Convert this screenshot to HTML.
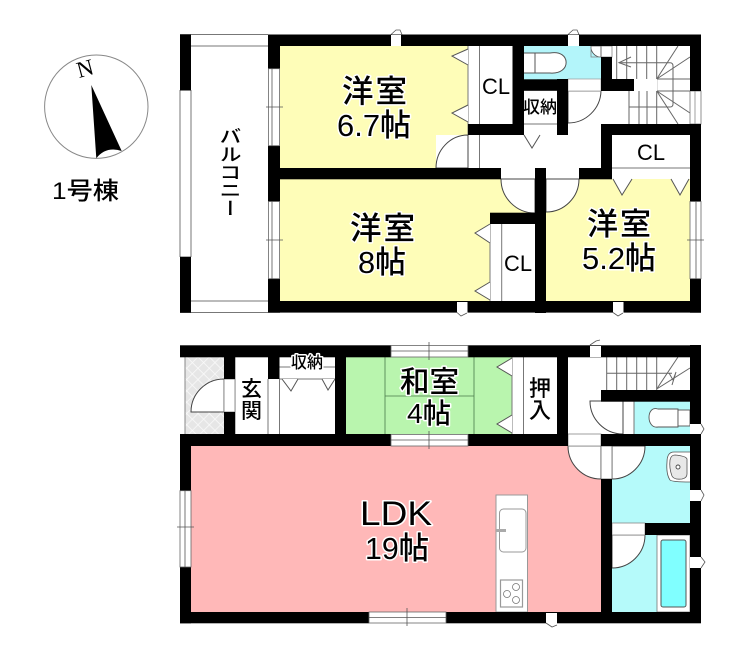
<!DOCTYPE html>
<html lang="ja"><head><meta charset="utf-8"><style>
html,body{margin:0;padding:0;background:#fff}
svg{display:block}
text{font-family:"Liberation Sans","Noto Sans CJK JP",sans-serif;font-weight:500;fill:#000;stroke:#fff;stroke-width:3px;paint-order:stroke;stroke-linejoin:round}
.n{stroke:none}
</style></head><body>
<svg xmlns="http://www.w3.org/2000/svg" width="740" height="659" viewBox="0 0 740 659">
<defs><pattern id="h" width="8" height="8" patternUnits="userSpaceOnUse" patternTransform="rotate(45)"><rect width="8" height="8" fill="#e6e6e6"/><path d="M0 0H8M0 0V8" stroke="#fafafa" stroke-width="1.5"/></pattern></defs>
<rect width="740" height="659" fill="#fff"/>

<!-- compass -->
<circle cx="96.3" cy="106.7" r="51.7" fill="#fff" stroke="#888" stroke-width="1"/>
<path d="M91.3 85L121.7 151Q106 146 96.3 158.3Z" fill="#000"/>
<text class="n" x="0" y="0" transform="translate(79 78) rotate(-15)" font-size="23" style="font-family:'Liberation Serif',serif">N</text>
<text class="n" x="52" y="199" font-size="24" textLength="67" lengthAdjust="spacingAndGlyphs">1号棟</text>

<!-- UPPER floor fills -->
<rect x="280" y="46" width="188" height="122" fill="#fefdb8"/>
<rect x="280" y="179" width="266" height="122" fill="#fefdb8"/>
<rect x="546" y="179" width="144" height="122" fill="#fefdb8"/>
<rect x="524" y="46" width="77" height="34" fill="#b3f5fa"/>
<!-- upper white interiors -->
<rect x="468" y="46" width="45" height="78" fill="#fff"/>
<rect x="490" y="224" width="45" height="77" fill="#fff"/>
<rect x="612" y="135" width="78" height="44" fill="#fff"/>
<rect x="436" y="135" width="165" height="33" fill="#fff"/>

<g fill="none" stroke="#777" stroke-width="1">
<!-- balcony -->
<path d="M180 34.5H268M191 46H268M191 301H268M180 312.5H268M180 90V257M191 90V257"/>
<!-- closet lines -->
<path d="M468 46V168M479.5 46V124M479.5 135V168M490 224V301M501.7 224V301M612 168H690"/>
<path d="M524 124H557"/>
</g>

<!-- door arcs -->
<g fill="#fff" stroke="#444" stroke-width="1">
<path d="M468 168H436A32 33 0 0 1 468 135Z"/>
<path d="M535 179H501A34 34 0 0 0 535 213Z"/>
<path d="M546 179H579A33 33 0 0 1 546 212Z"/>
<path d="M568 91H601A33 33 0 0 1 568 123Z"/>
<path d="M591 46A10 10 0 0 0 601 57V46Z" stroke-width=".8"/>
</g>
<rect x="591" y="46" width="21" height="11" fill="none" stroke="#888" stroke-width=".8"/>
<rect x="568" y="79" width="33" height="12" fill="#fff" stroke="#999" stroke-width=".7"/>

<!-- toilet upper -->
<g fill="#fff" stroke="#555" stroke-width="1">
<path d="M535 53H550C571 49 572 75 550 73H535Z"/>
<path d="M524 53H535V73H524"/>
</g>

<!-- closet triangles -->
<g fill="#fff" stroke="#555" stroke-width="1">
<path d="M468 49L452 56L468 65"/>
<path d="M468 105L452 113L468 122"/>
<path d="M490 224L475 233L490 243"/>
<path d="M490 282L475 291L490 300"/>
<path d="M613 179L622 195L632 179"/>
<path d="M671 179L680 195L689 179"/>
<path d="M524 135L532 148L540 135"/>
</g>

<!-- upper stairs -->
<g fill="none" stroke="#666" stroke-width="1">
<path d="M616.7 46V79M626.7 46V79M636.7 46V79M646.7 46V79M656.7 46V91"/>
<path d="M629 91V124M639 91V124M647 91V124M656.7 91V124" />
<path d="M619 62.7H670Q673 62.7 673 66V104Q673 107 670 107H629"/>
<path d="M656.7 79H690M656.7 91H690"/>
<path d="M656.7 79L678 46M656.7 79L690 57M656.7 91L690 113M656.7 91L678 124"/>
<path d="M631 57L619 62.7L631 67"/>
</g>
<rect x="634" y="79" width="23" height="12" fill="#fff"/>
<rect x="690" y="91" width="11" height="33" fill="#fff" stroke="#777" stroke-width=".8"/>
<path d="M695 91V124" stroke="#888" stroke-width=".8"/>

<!-- UPPER walls -->
<g fill="#000">
<rect x="180" y="34.5" width="11" height="56"/>
<rect x="180" y="256.7" width="11" height="56"/>
<rect x="268" y="34.5" width="433" height="11.5"/>
<rect x="268" y="301" width="433" height="11.6"/>
<rect x="268" y="34.5" width="12" height="34.2"/>
<rect x="268" y="145.7" width="12" height="55.8"/>
<rect x="268" y="278.7" width="12" height="34"/>
<rect x="280" y="168" width="221" height="11.3"/>
<rect x="535" y="168" width="11" height="145"/>
<rect x="579" y="168" width="33" height="11.3"/>
<rect x="601" y="124" width="11" height="55"/>
<rect x="601" y="124" width="100" height="11"/>
<rect x="690" y="34.5" width="11" height="56.5"/>
<rect x="690" y="124" width="11" height="77.5"/>
<rect x="690" y="278.7" width="11" height="34"/>
<rect x="468" y="124" width="56" height="11"/>
<rect x="512.5" y="46" width="11.5" height="89"/>
<rect x="524" y="79.3" width="44" height="11.5"/>
<rect x="557" y="79" width="11" height="56"/>
<rect x="601" y="57" width="11" height="34"/>
<rect x="601" y="79" width="33" height="12"/>
<rect x="490" y="212.7" width="45" height="11.3"/>
</g>

<!-- upper windows -->
<g fill="#fff" stroke="#666" stroke-width=".8">
<rect x="268.5" y="68.7" width="11" height="77"/>
<rect x="268.5" y="201.5" width="11" height="77.2"/>
<rect x="690" y="201.5" width="11" height="77.2"/>
<rect x="391" y="35" width="10" height="11" stroke="none"/>
<rect x="568" y="35" width="11" height="11" stroke="none"/>
<rect x="457" y="302" width="10.5" height="11" stroke="none"/>
<rect x="613" y="302" width="10.5" height="11" stroke="none"/>
</g>
<g fill="none" stroke="#555" stroke-width=".8">
<path d="M272 68.7V145.7M272 201.5V278.7M696 201.5V278.7"/>
<path d="M266 107H283M266 240H283M687 240H704"/>
<path d="M391 34.5L396 30H400L402 34.5M568 34.5L573 30H577L579 34.5M457 312.5L461 316L467 313M613 312.5L618 316L623 313"/>
</g>

<!-- upper labels -->
<text x="342" y="102" font-size="31.5" textLength="65" lengthAdjust="spacing">洋室</text>
<text x="337" y="136" font-size="31" textLength="74" lengthAdjust="spacingAndGlyphs">6.7帖</text>
<text x="350" y="239" font-size="31.5" textLength="65" lengthAdjust="spacing">洋室</text>
<text x="358" y="273" font-size="31" textLength="48" lengthAdjust="spacingAndGlyphs">8帖</text>
<text x="587" y="235" font-size="31" textLength="64" lengthAdjust="spacing">洋室</text>
<text x="582" y="269" font-size="31" textLength="74" lengthAdjust="spacingAndGlyphs">5.2帖</text>
<text class="n" x="482" y="94" font-size="22" textLength="28" lengthAdjust="spacingAndGlyphs">CL</text>
<text class="n" x="637" y="160" font-size="22" textLength="28" lengthAdjust="spacingAndGlyphs">CL</text>
<text class="n" x="504" y="271" font-size="22" textLength="28" lengthAdjust="spacingAndGlyphs">CL</text>
<text class="n" x="523" y="113" font-size="17">収納</text>
<text class="n" x="229" y="127" font-size="22" style="writing-mode:vertical-rl" textLength="90" lengthAdjust="spacingAndGlyphs">バルコニー</text>

<!-- LOWER fills -->
<rect x="191" y="446" width="410" height="166" fill="#ffb8b8"/>
<rect x="346" y="357" width="166" height="77" fill="#b9f5ae"/>
<rect x="185" y="357" width="39" height="77" fill="url(#h)"/>
<path d="M185 357V434" stroke="#888" stroke-width="1"/>
<rect x="612" y="446" width="78" height="77" fill="#b5fafa"/>
<rect x="612" y="535" width="78" height="77" fill="#b5fafa"/>
<rect x="634" y="401" width="56" height="33" fill="#b5fafa"/>

<!-- washitsu lines -->
<path d="M385 357V434M385 396H474M474 357V434" stroke="#4a7a4a" stroke-width=".8" fill="none"/>

<!-- lower inner lines -->
<g fill="none" stroke="#777" stroke-width="1">
<path d="M235 357V434M268 379V434M279.5 379V434M279.5 367H291M323 367H335M279.5 379H335M512 357V434M523.5 357V434"/>
<path d="M601 401H634V434M623 401V434"/>
</g>
<g fill="none" stroke="#666" stroke-width="1">
<path d="M606.7 357V390M616.7 357V390M626.7 357V390M636.7 357V390M646.7 357V390M656.7 357V390"/>
<path d="M606.7 373.3H672"/>
<path d="M656.7 389L678 357M656.7 389L690 368M672 385L676 372L673 380L669 373"/>
</g>

<!-- lower doors -->
<g fill="#fff" stroke="#444" stroke-width="1">
<path d="M224 412H191A33 33 0 0 1 224 379Z"/>
<path d="M601 446H568A33 33 0 0 0 601 479Z"/>
<path d="M612 446H645A33 33 0 0 1 612 479Z"/>
<path d="M612 568A33 33 0 0 0 645 535H612Z"/>
<path d="M623 401H590A33 33 0 0 0 623 434Z"/>
</g>
<rect x="568" y="434" width="33" height="12" fill="#fff" stroke="#888" stroke-width=".8"/>
<rect x="601" y="446" width="11" height="33" fill="#fff" stroke="#666" stroke-width=".8"/>
<rect x="612" y="523" width="33" height="12" fill="#fff" stroke="#888" stroke-width=".8"/>
<rect x="224" y="379" width="11" height="33" fill="#fff" stroke="#777" stroke-width=".8"/>

<!-- triangles lower -->
<g fill="#fff" stroke="#555" stroke-width="1">
<path d="M282 379L291 391L298 379"/>
<path d="M322 379L328 390L335 379"/>
<path d="M512 358L497 367L512 376"/>
<path d="M512 415L497 424L512 433"/>
</g>

<!-- kitchen -->
<rect x="496" y="495" width="31.5" height="117" fill="#fff" stroke="#999" stroke-width="1"/>
<rect x="499.5" y="509" width="26.5" height="43" rx="4" fill="#fff" stroke="#999" stroke-width="1"/>
<rect x="496" y="529" width="10" height="3" fill="#aaa"/>
<rect x="500.5" y="580" width="22" height="27" fill="#fff" stroke="#999" stroke-width="1.2"/>
<circle cx="516" cy="587" r="3.5" fill="#fff" stroke="#777" stroke-width=".8"/>
<circle cx="507" cy="594" r="3.5" fill="#fff" stroke="#777" stroke-width=".8"/>
<circle cx="516" cy="600" r="3.5" fill="#fff" stroke="#777" stroke-width=".8"/>

<!-- bath -->
<rect x="657" y="535" width="33" height="77" fill="#fff" stroke="#777" stroke-width=".8"/>
<rect x="661" y="540" width="25" height="67" rx="2" fill="#80ffff" stroke="#555" stroke-width="1"/>

<!-- wash basin -->
<path d="M690 452H674Q667 452 667 462Q666 474 670 480Q672 482 690 482" fill="#fff" stroke="#555" stroke-width=".8"/>
<path d="M675 455Q686 456 687 459V474Q687 478 682 479Q674 480 672 476Q669 468 670 460Q671 455 675 455Z" fill="#e8e8e8" stroke="#555" stroke-width=".8"/>
<circle cx="678" cy="467" r="2" fill="#fff" stroke="#444" stroke-width=".9"/>

<!-- lower toilet -->
<path d="M678 409H658C646 405 646 429 658 427H678Z" fill="#fff" stroke="#555" stroke-width=".9"/>
<rect x="678" y="410" width="12" height="16" fill="#fff" stroke="#555" stroke-width=".9"/>

<!-- LOWER walls -->
<g fill="#000">
<rect x="180" y="345.3" width="211" height="12"/>
<rect x="468" y="345.3" width="233" height="12"/>
<rect x="180" y="434" width="211" height="12"/>
<rect x="468" y="434" width="100" height="12"/>
<rect x="180" y="434" width="11" height="56.7"/>
<rect x="180" y="567" width="11" height="56.3"/>
<rect x="180" y="612" width="189" height="11.3"/>
<rect x="446" y="612" width="255" height="11.3"/>
<rect x="224" y="357" width="11" height="22"/>
<rect x="224" y="412" width="11" height="22"/>
<rect x="268" y="357" width="11.5" height="22"/>
<rect x="335" y="357" width="11" height="77"/>
<rect x="557" y="357" width="11" height="77"/>
<rect x="601" y="390" width="100" height="11.7"/>
<rect x="601" y="434" width="100" height="12"/>
<rect x="601" y="479" width="11" height="144"/>
<rect x="645" y="523" width="56" height="12"/>
<rect x="690" y="345" width="11" height="278"/>
</g>

<!-- lower windows/vents -->
<g fill="#fff" stroke="#666" stroke-width=".8">
<rect x="391" y="345.5" width="77" height="11.5"/>
<rect x="391" y="434.5" width="77" height="11.5"/>
<rect x="180" y="490.7" width="11" height="76.3"/>
<rect x="369" y="612" width="77" height="11"/>
<rect x="590" y="346" width="11" height="11" stroke="none"/>
<rect x="546" y="613" width="11" height="10.5" stroke="none"/>
<rect x="690" y="424" width="11" height="10" stroke="none"/>
<rect x="690" y="490" width="11" height="11" stroke="none"/>
<rect x="690" y="557" width="11" height="11" stroke="none"/>
</g>
<g fill="none" stroke="#555" stroke-width=".8">
<path d="M391 351H468M391 440H468M369 617.5H446M185 490.7V567"/>
<path d="M429 342V360M429 431V449M407 608V626M177 527H194"/>
<path d="M590 345L596 341L600 340M546 623L552 627L557 625"/>
<path d="M701 424L704 429L701 434M701 490L704 495L701 501M701 557L705 562L701 568"/>
</g>

<!-- lower labels -->
<text x="400" y="392" font-size="29.5" textLength="59" lengthAdjust="spacing">和室</text>
<text x="407" y="423" font-size="28" textLength="44" lengthAdjust="spacingAndGlyphs">4帖</text>
<text x="360" y="525" font-size="34" textLength="72" lengthAdjust="spacingAndGlyphs">LDK</text>
<text x="365" y="559" font-size="31" textLength="64" lengthAdjust="spacingAndGlyphs">19帖</text>
<text class="n" x="241" y="396" font-size="21">玄</text>
<text class="n" x="241" y="418" font-size="21">関</text>
<text class="n" x="529" y="396" font-size="22">押</text>
<text class="n" x="529" y="418" font-size="22">入</text>
<text x="291" y="368" font-size="16" textLength="32">収納</text>
</svg>
</body></html>
